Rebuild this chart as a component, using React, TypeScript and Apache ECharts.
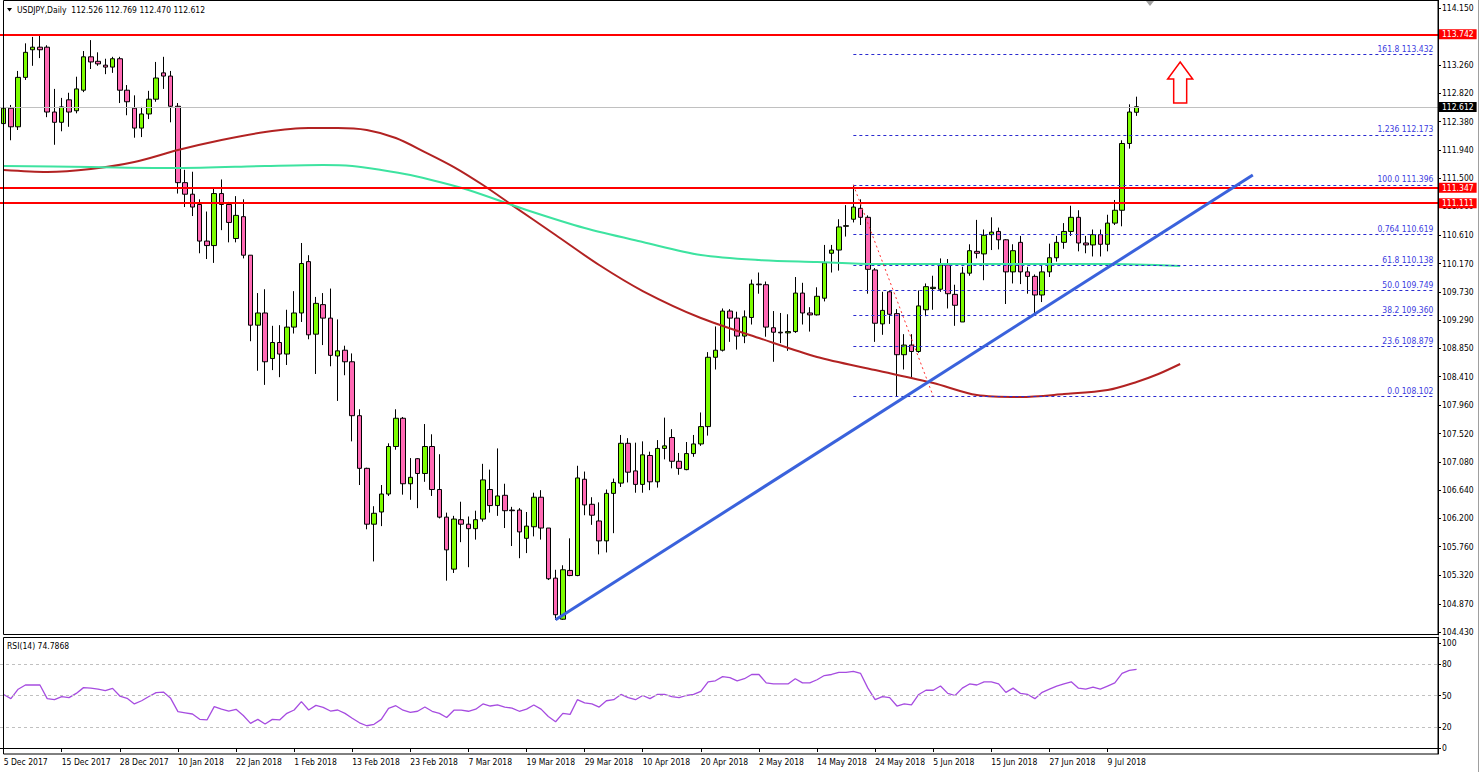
import { useEffect, useRef } from "react";
import * as echarts from "echarts";

// ---------- data ----------
const tickDates = [
  "5 Dec 2017", "15 Dec 2017", "28 Dec 2017", "10 Jan 2018", "22 Jan 2018", "1 Feb 2018",
  "13 Feb 2018", "23 Feb 2018", "7 Mar 2018", "19 Mar 2018", "29 Mar 2018", "10 Apr 2018",
  "20 Apr 2018", "2 May 2018", "14 May 2018", "24 May 2018", "5 Jun 2018", "15 Jun 2018",
  "27 Jun 2018", "9 Jul 2018",
];
const LABEL_EVERY = 8;
const SLOTS = 198;

// [open, close, low, high]
const candles: number[][] = [
  [112.35, 112.59, 112.02, 112.80], [112.59, 112.30, 112.09, 112.64], [112.30, 113.07, 112.25, 113.17],
  [113.07, 113.46, 113.03, 113.60], [113.50, 113.54, 113.25, 113.70], [113.54, 113.50, 113.37, 113.74],
  [113.54, 112.53, 112.45, 113.57], [112.53, 112.37, 112.02, 112.89], [112.37, 112.61, 112.23, 112.75],
  [112.72, 112.53, 112.30, 112.83], [112.55, 112.89, 112.51, 113.08], [112.87, 113.39, 112.84, 113.48],
  [113.39, 113.31, 113.20, 113.65], [113.32, 113.28, 113.25, 113.46], [113.26, 113.23, 113.12, 113.36],
  [113.23, 113.36, 113.14, 113.39], [113.36, 112.87, 112.67, 113.39], [112.87, 112.69, 112.48, 112.95],
  [112.59, 112.28, 112.13, 112.79], [112.28, 112.50, 112.14, 112.61], [112.50, 112.73, 112.42, 112.86],
  [112.73, 113.06, 112.69, 113.31], [113.14, 113.09, 112.89, 113.39], [113.09, 112.62, 112.37, 113.17],
  [112.62, 111.43, 111.26, 112.67], [111.43, 111.25, 111.05, 111.63], [111.25, 111.05, 110.91, 111.60],
  [111.09, 110.52, 110.33, 111.17], [110.52, 110.45, 110.24, 110.98], [110.45, 111.26, 110.18, 111.34],
  [111.26, 111.09, 110.69, 111.48], [111.09, 110.81, 110.50, 111.13], [110.56, 110.92, 110.50, 111.22],
  [110.90, 110.30, 110.25, 111.17], [110.30, 109.21, 108.96, 110.30], [109.21, 109.40, 108.50, 109.71],
  [109.40, 108.64, 108.28, 109.77], [108.69, 108.94, 108.51, 109.20], [108.94, 108.76, 108.40, 109.21],
  [108.76, 109.18, 108.59, 109.45], [109.18, 109.40, 109.08, 109.74], [109.40, 110.17, 109.26, 110.49],
  [110.20, 109.06, 108.99, 110.30], [109.07, 109.55, 108.45, 109.65], [109.53, 109.32, 108.90, 109.71],
  [109.32, 108.74, 108.57, 109.78], [108.73, 108.81, 108.03, 109.30], [108.82, 108.64, 108.43, 108.89],
  [108.64, 107.80, 107.40, 108.77], [107.80, 106.98, 106.72, 107.90], [106.98, 106.11, 106.03, 106.99],
  [106.11, 106.28, 105.53, 106.39], [106.30, 106.58, 106.08, 106.72], [106.58, 107.32, 106.55, 107.37],
  [107.32, 107.76, 107.27, 107.90], [107.76, 106.74, 106.57, 107.78], [106.74, 106.84, 106.49, 107.14],
  [107.13, 106.90, 106.36, 107.14], [106.90, 107.32, 106.77, 107.67], [107.32, 106.65, 106.55, 107.51],
  [106.65, 106.22, 106.20, 107.20], [106.22, 105.71, 105.23, 106.29], [105.41, 106.19, 105.35, 106.24],
  [106.18, 106.11, 105.83, 106.46], [106.11, 106.04, 105.44, 106.23], [106.04, 106.18, 105.87, 106.32],
  [106.19, 106.80, 106.15, 107.05], [106.65, 106.40, 106.29, 106.96], [106.40, 106.55, 106.24, 107.29],
  [106.56, 106.32, 106.05, 106.74], [106.33, 106.32, 105.77, 106.38], [106.33, 105.99, 105.58, 106.36],
  [105.89, 106.08, 105.66, 106.30], [106.07, 106.53, 105.92, 106.60], [106.53, 106.05, 105.87, 106.64],
  [106.05, 105.26, 105.24, 106.05], [105.27, 104.70, 104.62, 105.40], [104.63, 105.40, 104.62, 105.47],
  [105.39, 105.31, 105.30, 105.89], [105.31, 106.83, 105.30, 107.02], [106.81, 106.41, 106.25, 106.93],
  [106.42, 106.25, 106.10, 106.53], [106.16, 105.85, 105.64, 106.45], [105.85, 106.59, 105.67, 106.65],
  [106.59, 106.76, 105.97, 106.82], [106.75, 107.37, 106.69, 107.50], [107.37, 106.92, 106.76, 107.45],
  [106.94, 106.73, 106.60, 107.38], [106.73, 107.19, 106.60, 107.40], [107.18, 106.77, 106.64, 107.24],
  [106.77, 107.29, 106.68, 107.42], [107.29, 107.33, 107.12, 107.77], [107.46, 107.09, 106.98, 107.59],
  [107.09, 106.98, 106.88, 107.22], [106.96, 107.21, 106.95, 107.39], [107.21, 107.36, 107.16, 107.50],
  [107.36, 107.63, 107.33, 107.85], [107.63, 108.71, 107.49, 108.79], [108.71, 108.82, 108.52, 109.19],
  [108.82, 109.43, 108.80, 109.47], [109.43, 109.32, 108.95, 109.46], [109.32, 109.04, 108.83, 109.42],
  [109.04, 109.34, 108.93, 109.44], [109.33, 109.85, 109.22, 109.92], [109.85, 109.84, 109.70, 110.03],
  [109.84, 109.18, 109.03, 109.89], [109.17, 109.10, 108.64, 109.43], [109.10, 109.09, 108.93, 109.40],
  [109.09, 109.11, 108.81, 109.38], [109.11, 109.71, 109.09, 109.96], [109.71, 109.40, 109.22, 109.87],
  [109.40, 109.37, 109.11, 109.49], [109.37, 109.66, 109.36, 109.80], [109.63, 110.18, 109.58, 110.46],
  [110.33, 110.38, 110.03, 110.46], [110.38, 110.74, 110.06, 110.86], [110.75, 110.76, 110.59, 111.08],
  [110.86, 111.05, 110.81, 111.396], [111.03, 110.89, 110.77, 111.17], [110.89, 110.08, 109.70, 110.92],
  [110.07, 109.24, 108.95, 110.10], [109.23, 109.44, 109.06, 109.73], [109.73, 109.38, 109.23, 109.75],
  [109.39, 108.75, 108.102, 109.46], [108.75, 108.90, 108.52, 109.07], [108.90, 108.80, 108.38, 109.07],
  [108.80, 109.51, 108.78, 109.75], [109.45, 109.81, 109.35, 109.86], [109.78, 109.80, 109.45, 109.98],
  [109.77, 110.15, 109.73, 110.25], [110.15, 109.70, 109.47, 110.24], [109.69, 109.52, 109.20, 109.84],
  [109.26, 110.02, 109.26, 110.12], [110.02, 110.37, 109.98, 110.47], [110.36, 110.33, 110.25, 110.85],
  [110.32, 110.61, 109.91, 110.70], [110.62, 110.66, 110.38, 110.89], [110.67, 110.54, 110.39, 110.73],
  [110.54, 110.04, 109.54, 110.55], [110.04, 110.37, 109.86, 110.47], [110.50, 110.04, 109.85, 110.60],
  [110.04, 109.97, 109.70, 110.12], [109.97, 109.68, 109.37, 110.00], [109.68, 110.04, 109.57, 110.14],
  [110.04, 110.26, 109.96, 110.48], [110.26, 110.50, 110.20, 110.60], [110.50, 110.67, 110.40, 110.80],
  [110.67, 110.89, 110.60, 111.07], [110.89, 110.49, 110.36, 111.00], [110.49, 110.46, 110.33, 110.60],
  [110.46, 110.62, 110.28, 110.70], [110.62, 110.47, 110.28, 110.70], [110.47, 110.80, 110.36, 110.93],
  [110.80, 111.00, 110.77, 111.16], [111.00, 112.04, 110.75, 112.09], [112.04, 112.53, 111.96, 112.65],
  [112.526, 112.612, 112.470, 112.769],
];

const priceTicks = [
  114.15, 113.71, 113.26, 112.82, 112.38, 111.94, 111.5, 111.06, 110.61, 110.17, 109.73, 109.29,
  108.85, 108.41, 107.96, 107.52, 107.08, 106.64, 106.2, 105.76, 105.32, 104.87, 104.43,
];
const rsiTicks = [0, 20, 50, 80, 100];
const rsiLevels = [20, 50, 80];

const fibNames = ["161.8", "1.236", "100.0", "0.764", "61.8", "50.0", "38.2", "23.6", "0.0"];
const fibValues = [113.432, 112.173, 111.396, 110.619, 110.138, 109.749, 109.36, 108.879, 108.102];
const fibStartIndex = 117;

const resistanceLevels = [113.742, 111.347, 111.111];
const lastPrice = 112.612;

// moving averages (bar index, price)
const maRedIdx = [0, 6, 12, 18, 24, 30, 36, 42, 46, 50, 54, 58, 62, 66, 70, 76, 82, 88, 96, 104, 112, 120, 128, 134, 140, 146, 152, 156, 159, 162];
const maRed = [111.627, 111.596, 111.642, 111.751, 111.938, 112.094, 112.219, 112.281, 112.281, 112.25,
  112.125, 111.907, 111.673, 111.393, 111.081, 110.614, 110.147, 109.742, 109.321, 109.01,
  108.714, 108.511, 108.309, 108.122, 108.091, 108.137, 108.2, 108.325, 108.449, 108.605];
const maGreenIdx = [0, 12, 24, 36, 44, 48, 52, 56, 60, 64, 72, 80, 88, 96, 104, 112, 120, 128, 140, 152, 162];
const maGreen = [111.689, 111.673, 111.658, 111.689, 111.705, 111.689, 111.627, 111.549, 111.44, 111.315,
  111.004, 110.723, 110.505, 110.302, 110.224, 110.193, 110.162, 110.162, 110.162, 110.162, 110.131];

const rsi = [
  51, 47, 56, 60, 60, 60, 47, 46, 49, 48, 52, 57.5, 57, 56, 54.6, 56.8, 49.5, 47.3, 42, 45,
  49, 52.7, 53.3, 47.3, 34.6, 33.5, 32.4, 27.3, 26.7, 39.4, 37, 35.2, 36.8, 31, 23.5, 27.3, 22.9, 27.3, 26.7, 33,
  36.2, 44.1, 36.2, 40.6, 38.7, 35.2, 36.2, 33, 28.3, 24, 21.2, 22.6, 27.3, 37.8, 40.3, 36, 34, 35, 39, 35,
  33, 29, 36, 36, 35, 37, 42, 40, 41, 39, 38, 35, 37, 41, 37, 30, 25, 33, 32, 46,
  43, 42, 39, 45, 46, 51, 48, 46, 50, 47, 51, 51, 49, 48, 50, 51, 54, 63, 64, 68,
  67, 64, 66, 70, 70, 62, 61, 61, 61, 66, 62, 62, 65, 69, 70, 72, 72, 73, 71, 57,
  46, 49, 48, 40, 42, 41, 51, 55, 55, 59, 52, 50, 57, 61, 60, 63, 63, 61, 53, 57,
  52, 51, 47, 53, 56, 59, 61, 63, 57, 56, 58, 56, 59, 62, 71, 74, 74.79,
];

const trendLine = [[76, 104.62], [172, 111.55]];
const fibSwing = [[117, 111.396], [128, 108.102]];
const arrowAnchor = [162, 113.31];

// ---------- component ----------
const FONT = "'DejaVu Sans Condensed', 'DejaVu Sans', sans-serif";
const FS = 8.5;

export default function App() {
  const ref = useRef<HTMLDivElement>(null);

  useEffect(() => {
    if (!ref.current) return;
    const chart = echarts.init(ref.current, null, { renderer: "svg" });
    const cats = Array.from({ length: SLOTS }, (_, i) => String(i));
    const showTick = (idx: number) => idx % LABEL_EVERY === 0 && idx / LABEL_EVERY < tickDates.length;

    const fibLines = fibValues.map((v, k) => [
      {
        coord: [fibStartIndex, v],
        lineStyle: { color: "#2a2ad0", type: [3, 3], width: 1 },
        label: {
          show: true,
          position: "insideEndTop",
          formatter: `${fibNames[k]} ${v.toFixed(3)}`,
          color: "#3c3ce0",
          fontSize: FS,
          fontFamily: FONT,
          distance: 1,
        },
      },
      { coord: [SLOTS - 1, v] },
    ]);

    const tag = (v: number, bg: string) => ({
      show: true,
      position: "end",
      formatter: v.toFixed(3),
      color: "#fff",
      backgroundColor: bg,
      padding: [1, 3, 0, 3],
      fontSize: FS,
      fontFamily: FONT,
      distance: 1,
    });

    const option: any = {
      animation: false,
      backgroundColor: "#fff",
      grid: [
        { left: 0, width: 1438, top: 0, height: 635 },
        { left: 0, width: 1438, top: 637, height: 117 },
      ],
      xAxis: [
        {
          type: "category", gridIndex: 0, data: cats, boundaryGap: true,
          axisLine: { show: false }, axisTick: { show: false }, axisLabel: { show: false }, splitLine: { show: false },
        },
        {
          type: "category", gridIndex: 1, data: cats, boundaryGap: true,
          axisLine: { show: true, lineStyle: { color: "#000", width: 1 } },
          axisTick: { show: true, interval: (i: number) => showTick(i), alignWithLabel: true, length: 4, lineStyle: { color: "#000" } },
          axisLabel: {
            show: true, interval: (i: number) => showTick(i), align: "left", margin: 3,
            formatter: (_v: string, i: number) => (showTick(i) ? tickDates[i / LABEL_EVERY] : ""),
            color: "#000", fontSize: FS, fontFamily: FONT,
          },
          splitLine: { show: false },
        },
      ],
      yAxis: [
        {
          type: "value", gridIndex: 0, position: "right", min: 104.384, max: 114.275, scale: true,
          axisLine: { show: true, lineStyle: { color: "#000" } },
          axisTick: { show: true, customValues: priceTicks, length: 3, lineStyle: { color: "#000" } },
          axisLabel: {
            show: true, customValues: priceTicks, formatter: (v: number) => v.toFixed(3),
            color: "#000", fontSize: FS, fontFamily: FONT, margin: 4,
          },
          splitLine: { show: false },
        },
        {
          type: "value", gridIndex: 1, position: "right", min: -5.7, max: 105.7,
          axisLine: { show: true, lineStyle: { color: "#000" } },
          axisTick: { show: true, customValues: rsiTicks, length: 3, lineStyle: { color: "#000" } },
          axisLabel: {
            show: true, customValues: rsiTicks, formatter: (v: number) => String(v),
            color: "#000", fontSize: FS, fontFamily: FONT, margin: 4,
          },
          splitLine: { show: false },
        },
      ],
      series: [
        {
          type: "candlestick",
          xAxisIndex: 0, yAxisIndex: 0,
          data: candles,
          barWidth: 5,
          itemStyle: { color: "#7cfc00", color0: "#ff69b4", borderColor: "#000", borderColor0: "#000", borderWidth: 1 },
          markLine: {
            silent: true, symbol: ["none", "none"], animation: false,
            data: [
              { yAxis: lastPrice, lineStyle: { color: "#c0c0c0", type: "solid", width: 1 }, label: tag(lastPrice, "#000") },
              ...resistanceLevels.map((v) => ({
                yAxis: v, lineStyle: { color: "#ff0000", type: "solid", width: 2 }, label: tag(v, "#ff0000"),
              })),
              ...fibLines,
              [
                { coord: fibSwing[0], lineStyle: { color: "#ff3030", type: [2, 3], width: 1 }, label: { show: false } },
                { coord: fibSwing[1] },
              ],
              [
                { coord: trendLine[0], lineStyle: { color: "#3a62dc", type: "solid", width: 3 }, label: { show: false } },
                { coord: trendLine[1] },
              ],
            ],
          },
          z: 3,
        },
        {
          type: "line", xAxisIndex: 0, yAxisIndex: 0,
          data: maRedIdx.map((i, k) => [i, maRed[k]]),
          smooth: 0.3, showSymbol: false, symbol: "none",
          lineStyle: { color: "#b22222", width: 2 }, z: 4,
        },
        {
          type: "line", xAxisIndex: 0, yAxisIndex: 0,
          data: maGreenIdx.map((i, k) => [i, maGreen[k]]),
          smooth: 0.3, showSymbol: false, symbol: "none",
          lineStyle: { color: "#3de3a0", width: 2 }, z: 4,
        },
        {
          type: "line", xAxisIndex: 1, yAxisIndex: 1,
          data: rsi,
          showSymbol: false, symbol: "none",
          lineStyle: { color: "#a64ce0", width: 1.3 },
          markLine: {
            silent: true, symbol: ["none", "none"], animation: false,
            label: { show: false },
            lineStyle: { color: "#c0c0c0", type: [3, 3], width: 1 },
            data: rsiLevels.map((v) => ({ yAxis: v })),
          },
        },
      ],
    };
    chart.setOption(option);

    const [ax, ay] = chart.convertToPixel({ xAxisIndex: 0, yAxisIndex: 0 }, arrowAnchor as any) as number[];
    chart.setOption({
      graphic: [
        { type: "rect", shape: { x: 3.5, y: 0.5, width: 1434.5, height: 634 }, style: { fill: "none", stroke: "#000", lineWidth: 1 }, z: 10, silent: true },
        { type: "rect", shape: { x: 3.5, y: 637.5, width: 1434.5, height: 116.5 }, style: { fill: "none", stroke: "#000", lineWidth: 1 }, z: 10, silent: true },
        { type: "line", shape: { x1: 1478.5, y1: 0, x2: 1478.5, y2: 772 }, style: { stroke: "#a0a0a0", lineWidth: 1 }, silent: true },
        { type: "polygon", shape: { points: [[7, 8], [12, 8], [9.5, 11.5]] }, style: { fill: "#000" }, z: 10, silent: true },
        {
          type: "text", x: 17, y: 5, z: 10, silent: true,
          style: { text: "USDJPY,Daily  112.526 112.769 112.470 112.612", fill: "#000", fontSize: FS, fontFamily: FONT },
        },
        {
          type: "text", x: 7, y: 641, z: 10, silent: true,
          style: { text: "RSI(14) 74.7868", fill: "#000", fontSize: FS, fontFamily: FONT },
        },
        { type: "polygon", shape: { points: [[1146, 1], [1154, 1], [1150, 6]] }, style: { fill: "#a0a0a0" }, z: 10, silent: true },
        {
          type: "polygon", z: 10, silent: true,
          shape: {
            points: [
              [ax, ay], [ax + 12.5, ay + 17], [ax + 6.5, ay + 17], [ax + 6.5, ay + 41],
              [ax - 6.5, ay + 41], [ax - 6.5, ay + 17], [ax - 12.5, ay + 17],
            ],
          },
          style: { fill: "#fff", stroke: "#ff0000", lineWidth: 1.5 },
        },
      ],
    });

    return () => chart.dispose();
  }, []);

  return <div ref={ref} style={{ position: "fixed", left: 0, top: 0, width: 1480, height: 772, background: "#fff" }} />;
}
